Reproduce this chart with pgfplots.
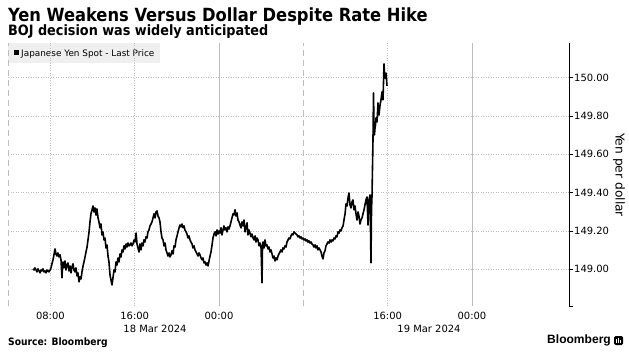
\documentclass[border=0pt]{standalone}
\usepackage{pgfplots}
\pgfplotsset{compat=1.18}
\usepackage{fontspec}
\setmainfont{DejaVu Sans}
\newfontfamily\condfont{DejaVu Sans Condensed}
\newfontfamily\libsans{Liberation Sans}
\definecolor{gridgray}{HTML}{BDBDBD}
\definecolor{leggray}{HTML}{EFEFEF}
\begin{document}
\begin{tikzpicture}[x=1bp,y=1bp]
\path[use as bounding box] (0,0) rectangle (629,354);
% titles
\node[anchor=base west, inner sep=0] at (8,333) {\condfont\bfseries\fontsize{18.2}{20}\selectfont Yen Weakens Versus Dollar Despite Rate Hike};
\node[anchor=base west, inner sep=0] at (8,318.3) {\condfont\bfseries\fontsize{14.3}{16}\selectfont BOJ decision was widely anticipated};
% legend
\fill[leggray] (8,291) rectangle (160,311);
\fill[black] (14,299) rectangle (19,304);
\node[anchor=base west, inner sep=0] at (21,298) {\fontsize{8.9}{10}\selectfont Japanese Yen Spot - Last Price};
% axis
\begin{axis}[
  at={(8bp,48bp)}, anchor=south west, scale only axis,
  width=561bp, height=263bp,
  xmin=3.98, xmax=57.21, ymin=148.808, ymax=150.181,
  axis x line=bottom, axis y line=right,
  x axis line style={draw=none},
  y axis line style={black, line width=0.8bp, -},
  xtick={8,16,24,40,48},
  xticklabels={08:00,16:00,00:00,16:00,00:00},
  xtick style={draw=none},
  ytick={149,149.2,149.4,149.6,149.8,150},
  scaled ticks=false,
  tick align=outside, major tick length=4bp,
  ytick style={black, line width=0.8bp},
  /pgf/number format/fixed,
  /pgf/number format/fixed zerofill,
  /pgf/number format/precision=2,
  /pgf/number format/1000 sep={},
  /pgf/number format/assume math mode=true,
  tick label style={font=\fontsize{10}{12}\selectfont},
  xticklabel style={anchor=base, inner sep=0pt, yshift=-9bp},
  yticklabel style={anchor=west, inner sep=0pt, xshift=1bp},
  ymajorgrids,
  grid style={gridgray, line width=0.6bp, dash pattern=on 1bp off 1.5bp},
  clip=false,
]
\draw[gridgray, line width=0.6bp, dash pattern=on 1bp off 1.5bp] (axis cs:8,148.808) -- (axis cs:8,150.181);
\draw[gridgray, line width=0.6bp, dash pattern=on 1bp off 1.5bp] (axis cs:16,148.808) -- (axis cs:16,150.181);
\draw[gridgray, line width=0.6bp, dash pattern=on 1bp off 1.5bp] (axis cs:40,148.808) -- (axis cs:40,150.181);
\draw[gridgray, line width=0.8bp] (axis cs:24,148.808) -- (axis cs:24,150.181);
\draw[gridgray, line width=0.8bp] (axis cs:48,148.808) -- (axis cs:48,150.181);
\draw[gridgray, line width=0.7bp, dash pattern=on 6bp off 4bp] (axis cs:4,148.808) -- (axis cs:4,150.181);
\draw[gridgray, line width=0.7bp, dash pattern=on 6bp off 4bp] (axis cs:32,148.808) -- (axis cs:32,150.181);
\addplot[black, line width=1.6bp, line join=round, mark=none] table {
6.35 149.002
6.45 148.996
6.54 149.007
6.64 148.996
6.73 148.986
6.83 149.002
6.92 148.991
7.02 148.981
7.11 148.996
7.21 148.991
7.30 149.002
7.40 148.986
7.49 148.991
7.59 148.981
7.68 148.996
7.78 148.991
7.87 148.986
7.97 148.996
8.06 149.007
8.15 149.028
8.25 149.049
8.34 149.075
8.44 149.106
8.53 149.080
8.63 149.069
8.72 149.085
8.82 149.064
8.91 149.075
9.01 149.049
9.10 148.955
9.15 149.017
9.20 149.038
9.29 149.007
9.39 149.043
9.48 148.996
9.58 149.022
9.67 149.033
9.77 148.991
9.86 149.017
9.96 148.981
10.05 149.012
10.15 149.028
10.24 148.996
10.34 148.986
10.43 149.007
10.53 148.965
10.62 148.981
10.72 148.934
10.81 148.960
10.91 148.949
11.00 148.986
11.10 149.017
11.19 149.038
11.29 149.064
11.38 149.090
11.48 149.116
11.57 149.153
11.67 149.195
11.76 149.247
11.85 149.289
11.95 149.310
12.04 149.330
12.14 149.299
12.23 149.320
12.33 149.283
12.42 149.315
12.52 149.268
12.61 149.247
12.71 149.216
12.80 149.236
12.90 149.179
12.99 149.195
13.09 149.153
13.18 149.163
13.28 149.111
13.37 149.127
13.47 149.069
13.56 149.038
13.66 148.970
13.75 148.944
13.85 148.918
13.94 148.955
14.04 148.996
14.13 148.986
14.23 149.038
14.32 149.022
14.42 149.059
14.51 149.038
14.61 149.080
14.70 149.064
14.80 149.101
14.89 149.090
14.99 149.122
15.08 149.106
15.18 149.132
15.27 149.116
15.37 149.137
15.46 149.122
15.56 149.127
15.65 149.137
15.75 149.122
15.84 149.132
15.94 149.153
16.03 149.142
16.13 149.189
16.22 149.132
16.31 149.111
16.41 149.090
16.50 149.132
16.60 149.101
16.69 149.137
16.79 149.122
16.88 149.153
16.98 149.142
17.07 149.169
17.17 149.163
17.26 149.195
17.36 149.205
17.45 149.226
17.55 149.236
17.64 149.247
17.74 149.268
17.83 149.289
17.93 149.268
18.02 149.299
18.12 149.304
18.21 149.278
18.31 149.268
18.40 149.247
18.50 149.195
18.59 149.163
18.69 149.153
18.78 149.122
18.88 149.137
18.97 149.101
19.07 149.085
19.16 149.069
19.26 149.085
19.35 149.064
19.45 149.075
19.54 149.096
19.64 149.080
19.73 149.122
19.83 149.116
19.92 149.153
20.02 149.174
20.11 149.195
20.21 149.216
20.30 149.231
20.40 149.221
20.49 149.236
20.59 149.216
20.68 149.226
20.77 149.205
20.87 149.195
20.96 149.184
21.06 149.163
21.15 149.174
21.25 149.153
21.34 149.142
21.44 149.132
21.53 149.111
21.63 149.122
21.72 149.101
21.82 149.090
21.91 149.080
22.01 149.069
22.10 149.085
22.20 149.075
22.29 149.059
22.39 149.049
22.48 149.059
22.58 149.033
22.67 149.038
22.77 149.022
22.86 149.033
22.96 149.017
23.05 149.043
23.15 149.069
23.24 149.090
23.34 149.127
23.43 149.163
23.53 149.184
23.62 149.195
23.72 149.174
23.81 149.205
23.91 149.184
24.00 149.200
24.09 149.189
24.19 149.216
24.28 149.179
24.38 149.205
24.47 149.226
24.57 149.205
24.66 149.216
24.76 149.195
24.85 149.221
24.95 149.210
25.04 149.226
25.14 149.247
25.23 149.268
25.33 149.289
25.42 149.283
25.52 149.310
25.61 149.278
25.71 149.294
25.80 149.257
25.90 149.247
25.99 149.231
26.09 149.216
26.18 149.247
26.28 149.226
26.37 149.257
26.47 149.195
26.56 149.221
26.66 149.242
26.75 149.179
26.85 149.205
26.94 149.189
27.04 149.169
27.13 149.184
27.23 149.163
27.32 149.153
27.42 149.174
27.51 149.142
27.61 149.163
27.70 149.153
27.80 149.122
27.89 149.137
27.99 149.111
28.08 148.929
28.13 149.127
28.17 149.142
28.27 149.111
28.36 149.153
28.46 149.122
28.55 149.127
28.65 149.106
28.74 149.116
28.84 149.090
28.93 149.101
29.03 149.080
29.12 149.059
29.22 149.069
29.31 149.043
29.41 149.059
29.50 149.049
29.60 149.069
29.69 149.080
29.79 149.090
29.88 149.101
29.98 149.090
30.07 149.111
30.17 149.106
30.26 149.122
30.36 149.116
30.45 149.142
30.55 149.153
30.64 149.163
30.74 149.158
30.83 149.174
30.93 149.184
31.02 149.179
31.12 149.195
31.21 149.189
31.31 149.184
31.40 149.179
31.50 149.169
31.59 149.174
31.69 149.163
31.78 149.169
31.87 149.158
31.97 149.163
32.06 149.153
32.16 149.158
32.25 149.148
32.35 149.153
32.44 149.142
32.54 149.148
32.63 149.137
32.73 149.142
32.82 149.132
32.92 149.127
33.01 149.116
33.11 149.127
33.20 149.111
33.30 149.122
33.39 149.101
33.49 149.111
33.58 149.101
33.68 149.090
33.77 149.069
33.87 149.054
33.96 149.085
34.06 149.096
34.15 149.122
34.25 149.132
34.34 149.142
34.44 149.137
34.53 149.153
34.63 149.142
34.72 149.153
34.82 149.148
34.91 149.163
35.01 149.158
35.10 149.174
35.20 149.169
35.29 149.195
35.39 149.189
35.48 149.205
35.58 149.200
35.67 149.216
35.77 149.226
35.86 149.257
35.96 149.289
36.05 149.341
36.15 149.330
36.24 149.372
36.33 149.398
36.43 149.336
36.52 149.320
36.62 149.351
36.71 149.362
36.81 149.310
36.90 149.330
37.00 149.289
37.09 149.257
37.19 149.299
37.28 149.278
37.38 149.236
37.47 149.257
37.57 149.268
37.66 149.289
37.76 149.310
37.85 149.336
37.95 149.362
38.04 149.377
38.14 149.231
38.23 149.362
38.33 149.388
38.42 149.033
38.47 149.310
38.52 149.388
38.56 149.518
38.61 149.674
38.66 149.920
38.71 149.727
38.75 149.701
38.80 149.737
38.85 149.753
38.90 149.790
38.99 149.769
39.09 149.868
39.18 149.805
39.28 149.857
39.37 149.884
39.47 149.926
39.56 149.884
39.66 150.072
39.71 150.014
39.75 149.998
39.85 150.024
39.94 149.957
};
\end{axis}
\draw[black, line width=0.8bp] (569,48) -- (572.5,48);
% axis title
\node[rotate=-90, inner sep=0] at (619,179) {\fontsize{12.3}{14}\selectfont Yen per dollar};
% date labels
\node[anchor=base, inner sep=0] at (155,22) {\fontsize{10}{12}\selectfont 18 Mar 2024};
\node[anchor=base, inner sep=0] at (429,22) {\fontsize{10}{12}\selectfont 19 Mar 2024};
% footer
\node[anchor=base west, inner sep=0] at (8,9) {\condfont\bfseries\fontsize{10.2}{12}\selectfont Source: Bloomberg};
\node[anchor=base west, inner sep=0] at (547,11) {\libsans\bfseries\fontsize{12.1}{14}\selectfont Bloomberg};
\fill[black, rounded corners=1.5bp] (614,9) rectangle (623,18);
\fill[white] (615.8,11) rectangle (616.9,15);
\fill[white] (618,11) rectangle (619.1,16.5);
\fill[white] (620.2,11) rectangle (621.3,14);
\end{tikzpicture}
\end{document}
